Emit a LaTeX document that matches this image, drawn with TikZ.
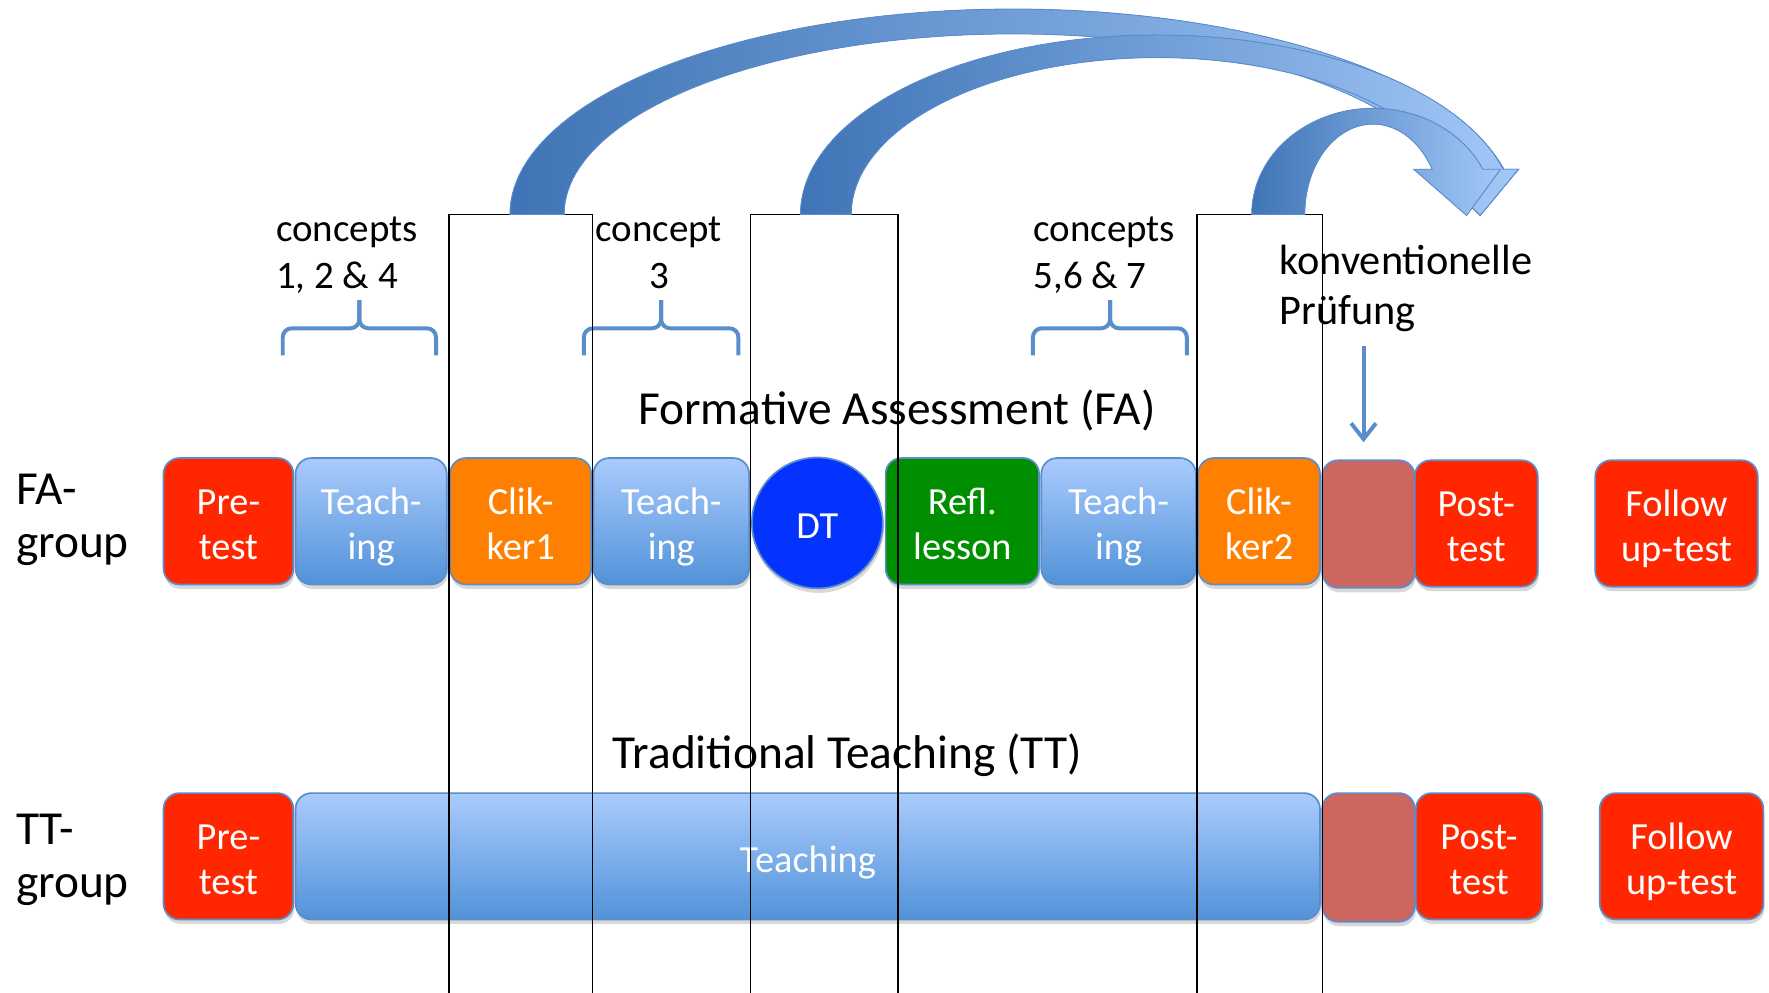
\documentclass[tikz,border=0pt]{standalone}
\usepackage{fontspec}
\setmainfont{Carlito}
\usetikzlibrary{shadows,arrows.meta}
\definecolor{cRed}{HTML}{FF2600}
\definecolor{cOrange}{HTML}{FF7F00}
\definecolor{cGreen}{HTML}{008F00}
\definecolor{cDT}{HTML}{0433FF}
\definecolor{cBrown}{HTML}{CC665F}
\definecolor{cTop}{HTML}{A9CBFD}
\definecolor{cBot}{HTML}{5292D8}
\definecolor{cEdge}{HTML}{5B8CCB}
\definecolor{cBrace}{HTML}{5A8DCB}
\definecolor{cArrDark}{HTML}{3F74B6}
\definecolor{cArrLight}{HTML}{A2C8F8}
\newcommand\bxs{\rule[-6pt]{0pt}{40pt}}
\newcommand\cps{\rule[-7pt]{0pt}{41pt}}
\newcommand\kvs{\rule[-8.6pt]{0pt}{44.6pt}}
\newcommand\grs{\rule[-11pt]{0pt}{47pt}}
\begin{document}
\begin{tikzpicture}[x=1pt,y=-1pt,
  box/.style={rectangle, rounded corners=14pt, draw=cEdge, line width=1.5pt,
    text=white, font=\fontsize{34}{40}\selectfont, align=center, inner sep=0pt,
    minimum height=112pt,
    drop shadow={opacity=0.3, shadow xshift=1pt, shadow yshift=-4pt}},
  tbox/.style={box, top color=cTop, bottom color=cBot},
  vline/.style={draw=black, line width=1.2pt},
  brc/.style={draw=cBrace, line width=3.5pt, rounded corners=8pt},
  cpt/.style={inner sep=0pt, font=\fontsize{34.5}{41}\selectfont},
  kvt/.style={inner sep=0pt, font=\fontsize{37.5}{44.6}\selectfont, align=left},
  grp/.style={inner sep=0pt, font=\fontsize{42}{47}\selectfont, align=left, anchor=north west},
  ttl/.style={inner sep=0pt, font=\fontsize{42}{47}\selectfont, anchor=base},
  darr/.style={draw=cBrace, line width=3.5pt, -{Straight Barb[length=14pt,width=22pt]}},
  arr/.style={draw=cEdge, line width=0.8pt, left color=cArrDark, right color=cArrLight}
]
\useasboundingbox (0,0) rectangle (1568,880);
\fill[white] (0,0) rectangle (1568,880);

% ---------- FA row ----------
\node[box, fill=cRed, minimum width=115pt] (fpre) at (202.5,462) {\bxs Pre-\\\bxs test};
\node[tbox, minimum width=134pt] (fteach1) at (329,462) {\bxs Teach-\\\bxs ing};
\node[box, fill=cOrange, minimum width=125pt] (fclik1) at (461.5,462) {\bxs Clik-\\\bxs ker1};
\node[tbox, minimum width=138pt] (fteach2) at (595,462) {\bxs Teach-\\\bxs ing};
\node[circle, draw=cEdge, line width=1.5pt, fill=cDT, minimum size=116pt, inner sep=0pt,
  text=white, font=\fontsize{34}{40}\selectfont,
  drop shadow={opacity=0.3, shadow xshift=1pt, shadow yshift=-4pt}] (dt) at (724.5,463.5) {\bxs DT};
\node[box, fill=cGreen, minimum width=136pt] (refl) at (853,462) {\bxs Refl.\\\bxs lesson};
\node[tbox, minimum width=137pt] (fteach3) at (991.5,462) {\bxs Teach-\\\bxs ing};
\node[box, fill=cOrange, minimum width=108pt] (fclik2) at (1116,462) {\bxs Clik-\\\bxs ker2};
\node[box, fill=cBrown, minimum width=82pt, minimum height=113pt] (fexam) at (1213,464.5) {};
\node[box, fill=cRed, minimum width=109pt] (fpost) at (1308.5,464) {\bxs Post-\\\bxs test};
\node[box, fill=cRed, minimum width=144pt] (ffol) at (1486,464) {\bxs Follow\\\bxs up-test};

% ---------- TT row ----------
\node[box, fill=cRed, minimum width=115pt] (tpre) at (202.5,759) {\bxs Pre-\\\bxs test};
\node[tbox, minimum width=908pt] (tteach) at (716,759) {\bxs Teaching};
\node[box, fill=cBrown, minimum width=82pt, minimum height=114pt] (texam) at (1213,760) {};
\node[box, fill=cRed, minimum width=112pt] (tpost) at (1311,759) {\bxs Post-\\\bxs test};
\node[box, fill=cRed, minimum width=145pt] (tfol) at (1490.5,759) {\bxs Follow\\\bxs up-test};

% ---------- labels ----------
\node[grp] (fag) at (14,410.8) {\grs FA-\\\grs group};
\node[grp] (ttg) at (14,712) {\grs TT-\\\grs group};
\node[ttl] (fatitle) at (795,376) {Formative Assessment (FA)};
\node[ttl] (tttitle) at (751,681) {Traditional Teaching (TT)};
\node[cpt, align=left, anchor=north west] (cA) at (244.5,180.3) {\cps concepts\\\cps 1, 2 \& 4};
\node[cpt, align=center, anchor=north] (cB) at (584,180.3) {\cps concept\\\cps 3};
\node[cpt, align=left, anchor=north west] (cC) at (916,180.3) {\cps concepts\\\cps 5,6 \& 7};
\node[kvt, anchor=north west] (kv) at (1134,206.9) {\kvs konventionelle\\\kvs Prüfung};

% ---------- braces ----------
\draw[brc] (250.6,315) -- (250.6,291) -- (318.5,291) -- (318.5,266);
\draw[brc] (386.5,315) -- (386.5,291) -- (318.5,291) -- (318.5,266);
\draw[brc] (517.5,315) -- (517.5,291) -- (586,291) -- (586,266);
\draw[brc] (654.5,315) -- (654.5,291) -- (586,291) -- (586,266);
\draw[brc] (915.5,315) -- (915.5,291) -- (984,291) -- (984,266);
\draw[brc] (1052,315) -- (1052,291) -- (984,291) -- (984,266);

% ---------- down arrow ----------
\coordinate (ka) at (1208.6,307);
\coordinate (kb) at (1208.6,392);
\draw[darr] (ka) -- (kb);

% ---------- open rectangles ----------
\draw[vline] (398,880) -- (398,190) -- (525,190) -- (525,880);
\draw[vline] (665,880) -- (665,190) -- (796,190) -- (796,880);
\draw[vline] (1061,880) -- (1061,190) -- (1172,190) -- (1172,880);

% ---------- curved block arrows ----------
\filldraw[arr] plot[domain=180:347.3,samples=90,variable=\t] ({898+446*cos(\t)},{190+182*sin(\t)})
  -- (1346,150) -- (1312,191) -- (1269,150)
  -- plot[domain=345.52:180,samples=90,variable=\t] ({898+398*cos(\t)},{190+160*sin(\t)}) -- cycle;
\filldraw[arr] plot[domain=180:345.43,samples=90,variable=\t] ({1026+316.5*cos(\t)},{190+159*sin(\t)})
  -- (1346,150) -- (1312,191) -- (1270,150)
  -- plot[domain=343.28:180,samples=90,variable=\t] ({1026+271.5*cos(\t)},{190+139*sin(\t)}) -- cycle;
\filldraw[arr] plot[domain=180:334.82,samples=90,variable=\t] ({1217+107.5*cos(\t)},{190+94*sin(\t)})
  -- (1330,150) -- (1300,191) -- (1253,150)
  -- plot[domain=330:180,samples=90,variable=\t] ({1217+60.5*cos(\t)},{190+80*sin(\t)}) -- cycle;
\end{tikzpicture}
\end{document}
